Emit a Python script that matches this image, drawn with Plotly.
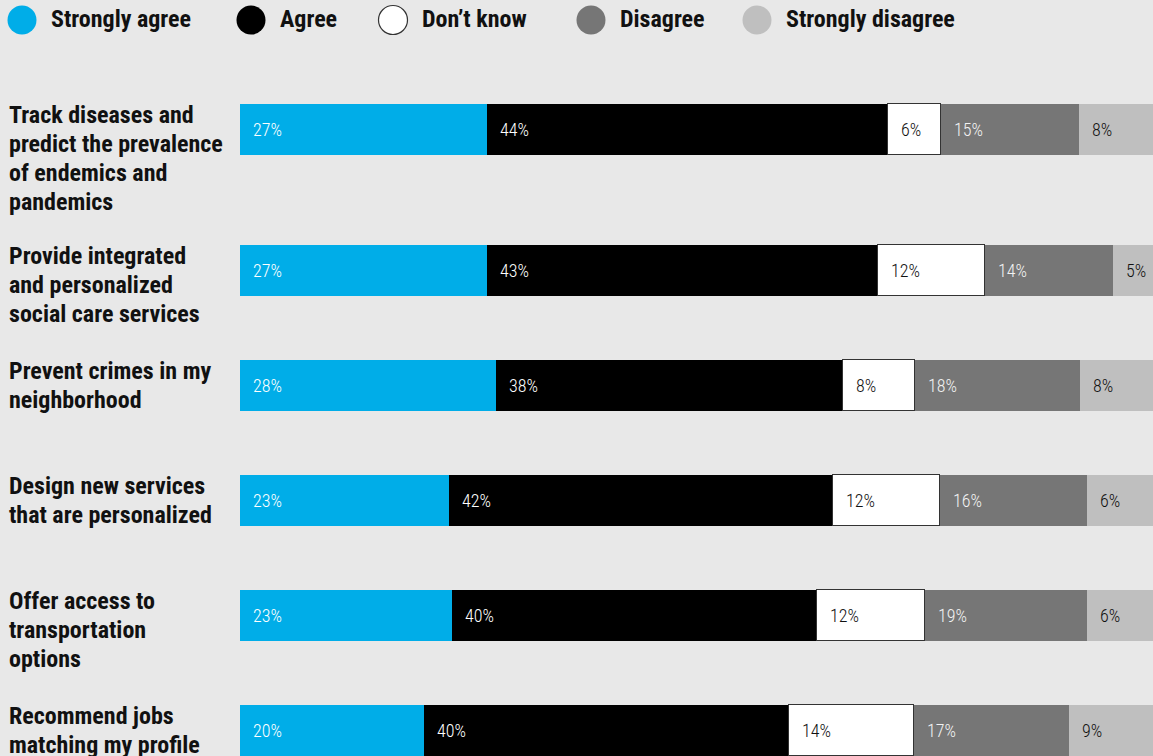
import plotly.graph_objects as go

questions = [
    ["Track diseases and", "predict the prevalence", "of endemics and", "pandemics"],
    ["Provide integrated", "and personalized", "social care services"],
    ["Prevent crimes in my", "neighborhood"],
    ["Design new services", "that are personalized"],
    ["Offer access to", "transportation", "options"],
    ["Recommend jobs", "matching my profile"],
]
series_names = ["Strongly agree", "Agree", "Don\u2019t know", "Disagree", "Strongly disagree"]
# values
strongly_agree = [27.0, 27.0, 28.0, 22.9, 23.2, 20.1]
agree = [44.0, 42.9, 38.0, 42.0, 40.0, 40.0]
dont_know = [5.8, 11.7, 7.9, 11.8, 11.8, 13.7]
disagree = [15.1, 14.0, 18.1, 16.1, 17.8, 17.0]
strongly_disagree = [8.1, 5.0, 8.1, 7.2, 7.2, 9.3]
# printed labels
lab_sa = ["27%", "27%", "28%", "23%", "23%", "20%"]
lab_a = ["44%", "43%", "38%", "42%", "40%", "40%"]
lab_dk = ["6%", "12%", "8%", "12%", "12%", "14%"]
lab_d = ["15%", "14%", "18%", "16%", "19%", "17%"]
lab_sd = ["8%", "5%", "8%", "6%", "6%", "9%"]

colors = ["#00ADE8", "#000000", "#FFFFFF", "#767676", "#BFBFBF"]
text_colors = ["#FFFFFF", "#FFFFFF", "#111111", "#F2F2F2", "#111111"]
series = [strongly_agree, agree, dont_know, disagree, strongly_disagree]
labels = [lab_sa, lab_a, lab_dk, lab_d, lab_sd]

W, H = 1153, 756
BG = "#E8E8E8"
LABEL_FONT = "Roboto Condensed, Roboto, sans-serif"
VALUE_FONT = "Roboto Condensed, Roboto, sans-serif"

# row layout: first row has extra gap
row_pos = [0.0] + [i + 0.23 for i in range(1, len(questions))]
row_px = 115.0
first_px = 129.0
y_top = -first_px / row_px
y_bot = (H - first_px) / row_px
bar_w = 51.0 / row_px
LINE_PX = 29

fig = go.Figure()
for k, (name, vals) in enumerate(zip(series_names, series)):
    fig.add_trace(go.Bar(
        y=row_pos, x=vals, orientation="h", name=name,
        width=bar_w,
        marker=dict(color=colors[k],
                    line=dict(color="#333333" if k == 2 else colors[k],
                              width=1.2 if k == 2 else 0)),
        showlegend=False, hoverinfo="skip",
    ))

annotations = []
for i in range(len(questions)):
    cum = 0.0
    for k in range(len(series)):
        annotations.append(dict(
            x=cum, y=row_pos[i], xref="x", yref="y", text=labels[k][i],
            xanchor="left", yanchor="middle", xshift=11, showarrow=False,
            font=dict(family=VALUE_FONT, size=18, weight=300, color=text_colors[k]),
        ))
        cum += series[k][i]
    for j, line in enumerate(questions[i]):
        annotations.append(dict(
            x=7 / W, y=row_pos[i] - bar_w / 2, xref="paper", yref="y",
            text=line, align="left",
            xanchor="left", yanchor="middle", showarrow=False,
            yshift=-(11 + j * LINE_PX),
            font=dict(family=LABEL_FONT, size=24, weight=700, color="#111111"),
        ))

# legend
legend_x = [22, 251, 393, 591, 757]
LEG_Y = 20
shapes = []
for k, name in enumerate(series_names):
    cx = legend_x[k]
    shapes.append(dict(
        type="circle", xref="paper", yref="paper",
        x0=(cx - 14.5) / W, x1=(cx + 14.5) / W,
        y0=1 - (LEG_Y + 14.5) / H, y1=1 - (LEG_Y - 14.5) / H,
        fillcolor=colors[k],
        line=dict(color="#333333" if k == 2 else colors[k], width=1.2 if k == 2 else 0),
    ))
    annotations.append(dict(
        x=(cx + 27) / W, y=1 - 19 / H, xref="paper", yref="paper",
        text=name, xanchor="left", yanchor="middle",
        showarrow=False, font=dict(family=LABEL_FONT, size=24, weight=700, color="#111111"),
    ))

fig.update_layout(
    barmode="stack", width=W, height=H,
    margin=dict(l=0, r=0, t=0, b=0),
    paper_bgcolor=BG, plot_bgcolor=BG,
    bargap=0,
    xaxis=dict(domain=[240 / W, 1], range=[0, 100], visible=False, fixedrange=True),
    yaxis=dict(domain=[0, 1], range=[y_bot, y_top], visible=False, fixedrange=True),
    annotations=annotations, shapes=shapes,
)

fig.write_html("out.html", config={"displayModeBar": False},
               post_script="document.body.style.margin='0';document.body.style.overflow='hidden';")
